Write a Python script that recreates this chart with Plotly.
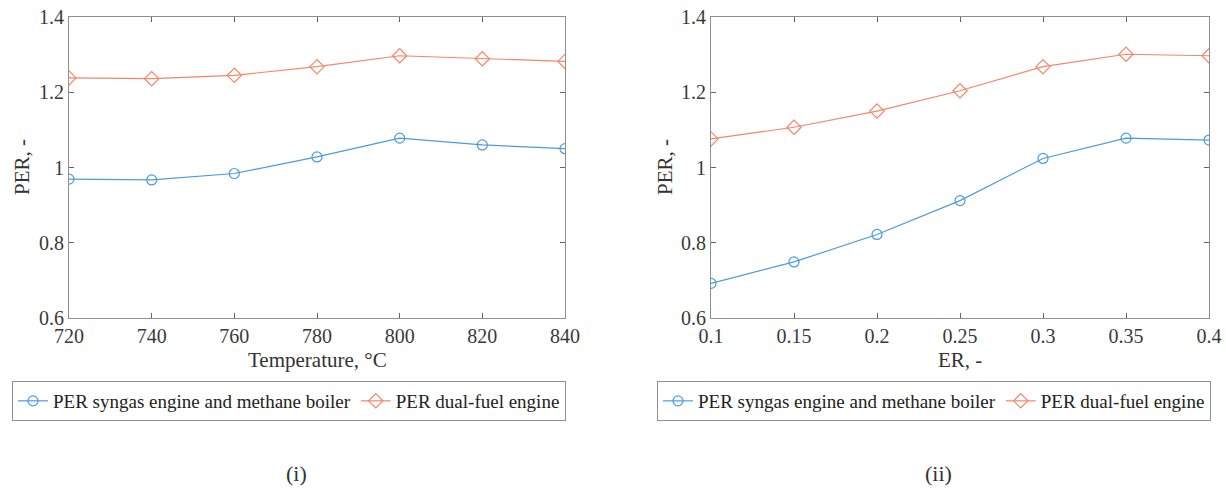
import plotly.graph_objects as go

# Primary energy ratio vs. gasification temperature
temperature = [720, 740, 760, 780, 800, 820, 840]
per_syngas_t = [0.969, 0.967, 0.984, 1.028, 1.078, 1.060, 1.050]
per_dual_t = [1.238, 1.236, 1.245, 1.268, 1.297, 1.289, 1.282]

# Primary energy ratio vs. equivalence ratio
er = [0.1, 0.15, 0.2, 0.25, 0.3, 0.35, 0.4]
per_syngas_er = [0.692, 0.749, 0.822, 0.912, 1.024, 1.078, 1.073]
per_dual_er = [1.076, 1.107, 1.150, 1.204, 1.268, 1.301, 1.297]

y_ticks = [0.6, 0.8, 1.0, 1.2, 1.4]
y_tick_text = ["0.6", "0.8", "1", "1.2", "1.4"]
er_tick_text = ["0.1", "0.15", "0.2", "0.25", "0.3", "0.35", "0.4"]

NAME_SYN = "PER syngas engine and methane boiler"
NAME_DUAL = "PER dual-fuel engine"
BLUE = "#4b9be0"
ORANGE = "#f4866a"
FONT = "Liberation Serif"
W, H = 1226, 490

fig = go.Figure()

def add_pair(x, ys, yd, xa, ya, leg):
    fig.add_trace(go.Scatter(
        x=x, y=ys, name=NAME_SYN, mode="lines+markers", xaxis=xa, yaxis=ya,
        legend=leg, line=dict(color=BLUE, width=1.2),
        marker=dict(symbol="circle-open", size=10, color=BLUE, line=dict(width=1.2))))
    fig.add_trace(go.Scatter(
        x=x, y=yd, name=NAME_DUAL, mode="lines+markers", xaxis=xa, yaxis=ya,
        legend=leg, line=dict(color=ORANGE, width=1.2),
        marker=dict(symbol="diamond-open", size=11, color=ORANGE, line=dict(width=1.2))))

add_pair(temperature, per_syngas_t, per_dual_t, "x", "y", "legend")
add_pair(er, per_syngas_er, per_dual_er, "x2", "y2", "legend2")

axis_common = dict(
    showgrid=False, zeroline=False, showline=True, linecolor="#8f8f8f", linewidth=1,
    mirror="ticks", ticks="inside", ticklen=5, tickcolor="#666666", tickwidth=1,
    tickfont=dict(family=FONT, size=20, color="#3a3a3a"), automargin=False,
)

top = 1 - 17 / H
bottom = 1 - 318 / H

legend_common = dict(
    orientation="h", xanchor="right", yanchor="top", y=1 - 381 / H,
    bordercolor="#8f8f8f", borderwidth=1, bgcolor="white",
    font=dict(family=FONT, size=19, color="#222222"), tracegroupgap=0,
)

fig.update_layout(
    width=W, height=H,
    margin=dict(l=0, r=0, t=0, b=0, autoexpand=False),
    paper_bgcolor="white", plot_bgcolor="white",
    font=dict(family=FONT, color="#333333"),
    xaxis=dict(domain=[69 / W, 565 / W], range=[720, 840], tickvals=temperature,
               anchor="y", **axis_common),
    yaxis=dict(domain=[bottom, top], range=[0.6, 1.4], tickvals=y_ticks,
               ticktext=y_tick_text, anchor="x", **axis_common),
    xaxis2=dict(domain=[711 / W, 1209 / W], range=[0.1, 0.4], tickvals=er,
                ticktext=er_tick_text, anchor="y2", **axis_common),
    yaxis2=dict(domain=[bottom, top], range=[0.6, 1.4], tickvals=y_ticks,
                ticktext=y_tick_text, anchor="x2", **axis_common),
    legend=dict(x=566 / W, **legend_common),
    legend2=dict(x=1211 / W, **legend_common),
)

def label(text, x, y, size, angle=0):
    fig.add_annotation(text=text, x=x / W, y=1 - y / H, xref="paper", yref="paper",
                       xanchor="center", yanchor="middle",
                       showarrow=False, textangle=angle,
                       font=dict(family=FONT, size=size, color="#333333"))

label("Temperature, °C", 317, 360, 21)
label("PER, -", 22, 167, 21, -90)
label("ER, -", 960, 360, 21)
label("PER, -", 665, 167, 21, -90)
label("(i)", 296, 473, 22)
label("(ii)", 938, 473, 22)

fig.write_html("out.html")
